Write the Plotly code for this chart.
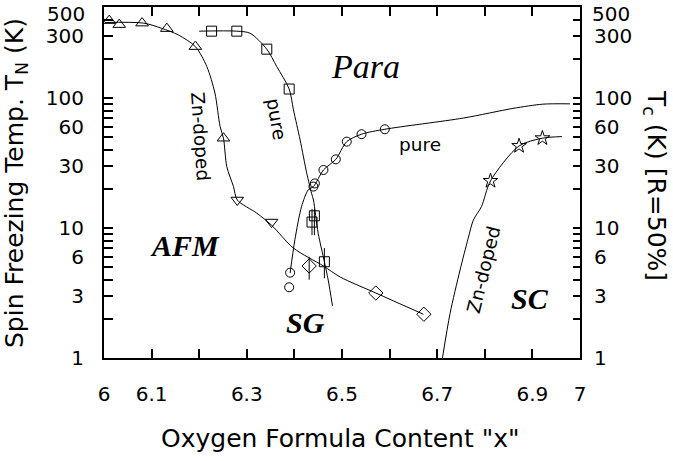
import plotly.graph_objects as go
import numpy as np

# ---------------- data ----------------
# Zn-doped AFM (Neel) points
zn_afm_up_x = [6.011, 6.032, 6.080, 6.132, 6.192, 6.251]
zn_afm_up_y = [393, 366, 376, 341, 248, 49]
zn_afm_dn_x = [6.280, 6.352]
zn_afm_dn_y = [16.4, 11.1]
zn_sg_x = [6.431, 6.571, 6.672]
zn_sg_y = [5.1, 3.16, 2.17]
zn_sg_err_plus = [0.9, 0.0, 0.0]
zn_sg_err_minus = [1.1, 0.0, 0.0]

# pure AFM points
pure_afm_x = [6.226, 6.279, 6.342, 6.389, 6.442, 6.437, 6.463]
pure_afm_y = [326, 326, 237, 117, 12.4, 11.1, 5.5]
pure_afm_err_plus = [0, 0, 0, 0, 1.6, 2.9, 1.5]
pure_afm_err_minus = [0, 0, 0, 0, 3.6, 2.3, 1.4]

# pure SC points
pure_sc_x = [6.389, 6.391, 6.440, 6.443, 6.461, 6.487, 6.510, 6.541, 6.590]
pure_sc_y = [3.5, 4.53, 20.8, 22.0, 27.9, 33.7, 46.1, 52.6, 57.4]

# Zn-doped SC points
zn_sc_x = [6.812, 6.872, 6.921]
zn_sc_y = [23, 42.7, 49]

# guide curves
zn_afm_curve_x = [6.002, 6.083, 6.121, 6.156, 6.192, 6.216, 6.233, 6.244, 6.251,
                  6.258, 6.272, 6.280, 6.321, 6.352, 6.398, 6.461, 6.496, 6.571, 6.671]
zn_afm_curve_y = [380, 376, 343, 305, 248, 174, 109, 60, 49,
                  29.6, 20.8, 16.4, 13, 10.5, 7.0, 5.1, 4.2, 3.16, 2.17]

pure_afm_curve_x = [6.200, 6.279, 6.307, 6.342, 6.363, 6.389, 6.398, 6.412, 6.426,
                    6.436, 6.440, 6.450, 6.463, 6.471, 6.480]
pure_afm_curve_y = [326, 326, 314, 237, 174, 117, 81, 47.5, 26.3,
                    18.5, 16.4, 9.1, 5.5, 3.98, 2.52]

pure_sc_curve_x = [6.391, 6.401, 6.415, 6.429, 6.440, 6.461, 6.487, 6.510, 6.541,
                   6.590, 6.755, 6.859, 6.922, 6.979]
pure_sc_curve_y = [4.5, 8.1, 14.6, 19.6, 20.8, 27.9, 33.7, 46.1, 52.6,
                   57.4, 70, 83, 89.5, 90]

zn_sc_curve_x = [6.711, 6.727, 6.748, 6.765, 6.776, 6.793, 6.812, 6.872, 6.921, 6.962]
zn_sc_curve_y = [1.0, 2.2, 4.75, 8.3, 11.5, 14.6, 23, 42.7, 49, 50.4]

x_tickvals = [6.0, 6.1, 6.2, 6.3, 6.4, 6.5, 6.6, 6.7, 6.8, 6.9, 7.0]
x_ticktext = ["6", "6.1", "", "6.3", "", "6.5", "", "6.7", "", "6.9", "7"]
y_labeled = [1, 3, 6, 10, 30, 60, 100, 300]
y_top_label = 500

# ---------------- figure ----------------
FONT = "DejaVu Sans"
BLACK = "black"

y_tickvals = []
for dec in [1, 10, 100]:
    for m in range(1, 10):
        v = m * dec
        if v <= 500:
            y_tickvals.append(v)
y_ticktext = [str(v) if v in y_labeled else "" for v in y_tickvals]
YR = [-1e-6, np.log10(500) + 1e-6]

fig = go.Figure()

def curve(x, y):
    fig.add_trace(go.Scatter(x=x, y=y, mode="lines",
                             line=dict(color=BLACK, width=1, shape="spline", smoothing=0.8),
                             hoverinfo="skip", showlegend=False))

curve(zn_afm_curve_x, zn_afm_curve_y)
curve(pure_afm_curve_x, pure_afm_curve_y)
curve(pure_sc_curve_x, pure_sc_curve_y)
curve(zn_sc_curve_x, zn_sc_curve_y)

def pts(x, y, symbol, size, ep=None, em=None):
    kw = {}
    if ep is not None:
        kw["error_y"] = dict(type="data", array=ep, arrayminus=em, visible=True,
                             color=BLACK, thickness=1, width=0)
    fig.add_trace(go.Scatter(x=x, y=y, mode="markers",
                             marker=dict(symbol=symbol, size=size, color=BLACK,
                                         line=dict(color=BLACK, width=1)),
                             showlegend=False, **kw))

pts(zn_afm_up_x, zn_afm_up_y, "triangle-up-open", 11)
pts(zn_afm_dn_x, zn_afm_dn_y, "triangle-down-open", 11)
pts(zn_sg_x, zn_sg_y, "diamond-open", 11, zn_sg_err_plus, zn_sg_err_minus)
pts(pure_afm_x, pure_afm_y, "square-open", 10, pure_afm_err_plus, pure_afm_err_minus)
pts(pure_sc_x, pure_sc_y, "circle-open", 9)
pts(zn_sc_x, zn_sc_y, "star-open", 11)

# invisible trace for right axis
fig.add_trace(go.Scatter(x=[6.5], y=[10], yaxis="y2", mode="markers",
                         marker=dict(opacity=0), hoverinfo="skip", showlegend=False))

TICKFONT = dict(family=FONT, size=20, color=BLACK)
axis_common = dict(showgrid=False, zeroline=False, showline=True, linecolor=BLACK,
                   linewidth=2, ticks="inside", tickcolor=BLACK, tickwidth=1.5,
                   automargin=False, ticklabeloverflow="allow", tickfont=TICKFONT)

fig.update_layout(
    width=673, height=461,
    margin=dict(l=104, r=93, t=7, b=103, autoexpand=False),
    paper_bgcolor="white", plot_bgcolor="white",
    xaxis=dict(range=[6, 7], tickvals=x_tickvals, ticktext=x_ticktext,
               ticklen=9, mirror="ticks", ticklabelstandoff=17, **axis_common),
    yaxis=dict(type="log", range=YR, tickvals=y_tickvals,
               ticktext=y_ticktext, ticklen=9, ticklabelstandoff=14, **axis_common),
    yaxis2=dict(type="log", range=YR, tickvals=y_tickvals,
                ticktext=y_ticktext, ticklen=7, overlaying="y", side="right",
                ticklabelstandoff=8, **axis_common),
)

def px2paper(px, py):
    return (px - 104) / 476.0, (358 - py) / 351.0

annots = []
def ann(px, py, text, size, angle=0, family=FONT, **kw):
    x, y = px2paper(px, py)
    annots.append(dict(x=x, y=y, xref="paper", yref="paper", text=text,
                       showarrow=False, textangle=angle, xanchor="center",
                       yanchor="middle", font=dict(family=family, size=size, color=BLACK),
                       **kw))

# top "500" labels on both y axes (kept inside the page's top edge)
annots.append(dict(x=0, y=np.log10(y_top_label), xref="paper", yref="y",
                   text=str(y_top_label), showarrow=False, xanchor="right",
                   yanchor="top", xshift=-17, yshift=7, font=TICKFONT))
annots.append(dict(x=1, y=np.log10(y_top_label), xref="paper", yref="y",
                   text=str(y_top_label), showarrow=False, xanchor="left",
                   yanchor="top", xshift=10, yshift=7, font=TICKFONT))

ann(340, 438, 'Oxygen Formula Content "x"', 25)
ann(16, 183, "Spin Freezing Temp. T<sub>N</sub> (K)", 25, angle=-90)
ann(655, 185, "T<sub>c</sub> (K) [R=50%]", 25, angle=90)

SERIF = "Liberation Serif"
ann(365, 66, "<i>Para</i>", 34, family=SERIF)
ann(185, 246, "<b><i>AFM</i></b>", 30, family=SERIF)
ann(305, 322, "<b><i>SG</i></b>", 30, family=SERIF)
ann(530, 298, "<b><i>SC</i></b>", 30, family=SERIF)

ann(201, 136, "Zn-doped", 18.5, angle=86)
ann(277, 119, "pure", 18.5, angle=80)
ann(420, 144, "pure", 18.5)
ann(483, 270, "Zn-doped", 18.5, angle=-76)

fig.update_layout(annotations=annots)

fig.write_html("out.html", config={"displayModeBar": False},
               post_script="document.body.style.margin='0px';document.body.style.overflow='hidden';")
